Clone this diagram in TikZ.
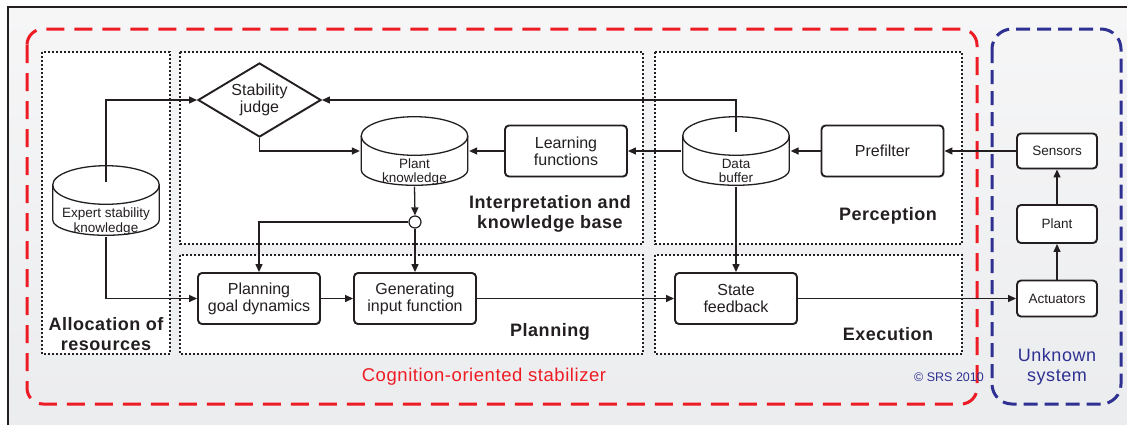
\documentclass[tikz,border=0pt]{standalone}
\usepackage{fontspec}
\setmainfont{Liberation Sans}
\newfontfamily\wide[LetterSpace=3]{Liberation Sans}
\usepackage{tikz}
\usetikzlibrary{arrows.meta,shapes.geometric,shadows}
\definecolor{srsred}{HTML}{ED1C24}
\definecolor{srsblue}{HTML}{2E3192}
\definecolor{ink}{HTML}{231F20}
\definecolor{paneltop}{HTML}{F6F6F7}
\definecolor{panelbot}{HTML}{EBECEE}

\begin{document}
\begin{tikzpicture}[x=1pt,y=-1pt,ink,line width=1.3pt,
                    >={Triangle[length=8pt,width=7pt]},
                    box/.style={draw,fill=white,rounded corners=4pt,line width=1.9pt,
                                minimum width=122pt,minimum height=51pt,inner sep=2pt,
                                align=center,font=\fontsize{16}{17}\selectfont,
                                drop shadow={opacity=.2,shadow xshift=1pt,shadow yshift=-1pt}},
                    sbox/.style={box,minimum width=80pt,font=\fontsize{13.5}{15}\selectfont},
                    judge/.style={diamond,draw,fill=white,line width=1.9pt,aspect=1.66,
                                  minimum width=123pt,minimum height=74pt,inner sep=0pt,
                                  align=center,font=\fontsize{16}{17}\selectfont,
                                  drop shadow={opacity=.2,shadow xshift=1pt,shadow yshift=-1pt}},
                    drum/.style={minimum width=108pt,minimum height=70pt,inner sep=0pt,
                                 align=center,font=\fontsize{13.5}{14.5}\selectfont,
                                 text height=63pt,text depth=0pt,
                                 path picture={\def\pb{path picture bounding box}
                                   \draw[line width=1.3pt] ([yshift=-20pt]\pb.north)
                                        ellipse [x radius=53.3pt,y radius=19.3pt];
                                   \draw[line width=1.3pt] ([xshift=.7pt,yshift=-20pt]\pb.north west)
                                        -- ([xshift=.7pt,yshift=16pt]\pb.south west)
                                        arc [start angle=180,end angle=360,x radius=53.3pt,y radius=15.3pt]
                                        -- ([xshift=-.7pt,yshift=-20pt]\pb.north east);}},
                    junc/.style={circle,draw,fill=white,line width=1.2pt,minimum size=12pt,inner sep=0pt},
                    zone/.style={draw,fill=white,line width=1.8pt,dash pattern=on 1.8pt off 2.2pt},
                    frame/.style={line width=3pt},
                    zlabel/.style={align=center,font=\wide\bfseries\fontsize{18}{20}\selectfont}]

\useasboundingbox (0,0) rectangle (1127,424);
\shade[top color=paneltop,bottom color=panelbot] (8,7) rectangle (1140,440);
\draw[line width=2.6pt] (8,440) -- (8,7) -- (1140,7);

\draw[zone] (42,52) rectangle (170,354);
\draw[zone] (180,52) rectangle (643,244);
\draw[zone] (655,52) rectangle (962,244);
\draw[zone] (180,255) rectangle (643,354);
\draw[zone] (655,255) rectangle (962,354);

\draw[frame,srsred,rounded corners=16pt,dash pattern=on 18pt off 10pt] (27,29) rectangle (977,404);
\draw[frame,srsblue,rounded corners=20pt,dash pattern=on 14pt off 7pt] (992,29) rectangle (1121,404);

\node[judge] (sj) at (259.5,100) {Stability\\judge};
\node[drum] (pk) at (414.5,151) {Plant\\knowledge};
\node[box] (lf) at (566,151) {Learning\\functions};
\node[drum] (db) at (736,151) {Data\\buffer};
\node[box] (pf) at (882.5,151) {Prefilter};
\node[sbox,minimum height=35pt] (sens) at (1057,151) {Sensors};
\node[sbox,minimum height=38pt] (plant) at (1057,224) {Plant};
\node[sbox,minimum height=36pt] (act) at (1057,298.5) {Actuators};
\node[drum,minimum height=71pt] (esk) at (106,200.5) {Expert stability\\knowledge};
\node[junc] (jn) at (415,222) {};
\node[box] (pgd) at (259,298.5) {Planning\\goal dynamics};
\node[box] (gif) at (415,298.5) {Generating\\input function};
\node[box] (sf) at (736,298.5) {State\\feedback};

\node[zlabel] (alloc) at (106,334) {Allocation of\\resources};
\node[zlabel] (interp) at (550,214) {Interpretation and\\knowledge base};
\node[zlabel] (percep) at (888,216) {Perception};
\node[zlabel] (plan) at (550,332) {Planning};
\node[zlabel] (exec) at (888,334) {Execution};

\node[srsred,font=\wide\fontsize{18.5}{20}\selectfont] (cos) at (484,377) {Cognition-oriented stabilizer};
\node[srsblue,font=\fontsize{12.5}{14}\selectfont] (copy) at (949,377) {© SRS 2010};
\node[srsblue,align=center,font=\wide\fontsize{18}{20}\selectfont] (unk) at (1057,367) {Unknown\\system};

\draw[->] ([yshift=-18pt]esk.north) |- (sj.west);
\draw[->] (esk.south) |- (pgd.west);
\draw[->] ([yshift=-17pt]db.north) |- (sj.east);
\draw[->] (sj.south) |- (pk.west);
\draw[->] (jn.west) -| (pgd.north);

\path[->] (lf.west) edge (pk.east)
          (db.west) edge (lf.east)
          (pf.west) edge (db.east)
          (sens.west) edge (pf.east)
          (pk.south) edge (jn.north)
          (jn.south) edge (gif.north)
          (pgd.east) edge (gif.west)
          (gif.east) edge (sf.west)
          (db.south) edge (sf.north)
          (sf.east) edge (act.west)
          (act.north) edge (plant.south)
          (plant.north) edge (sens.south);

\end{tikzpicture}
\end{document}
